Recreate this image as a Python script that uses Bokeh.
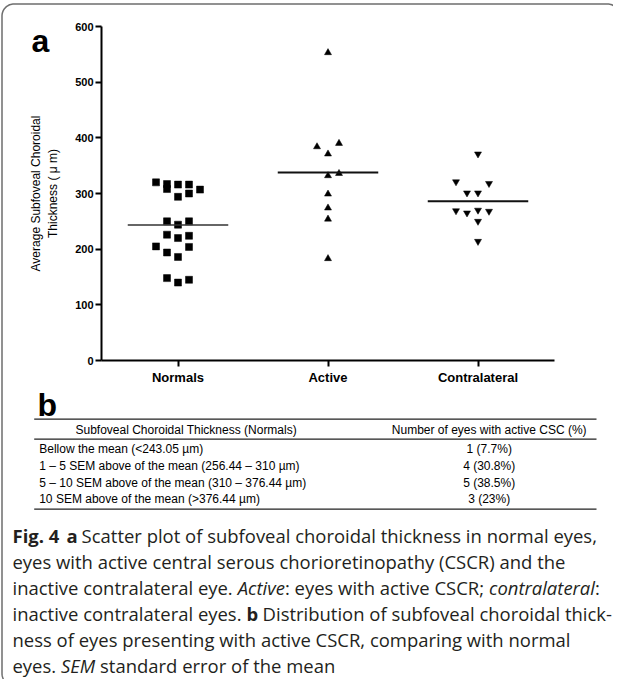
import os, glob, struct, subprocess
import numpy as np
from bokeh.plotting import figure
from bokeh.models import Range1d, FixedTicker, ColumnDataSource
from bokeh.core.properties import value
from bokeh.embed import file_html
from bokeh.resources import INLINE

# ---------------- data ----------------
categories = ["Normals", "Active", "Contralateral"]
normals = [320, 317, 308, 316, 316, 307, 300, 294, 250, 250, 244, 226, 224, 220, 205, 204, 194, 186, 148, 145, 140]
normals_slot = [-2, -1, -1, 0, 1, 2, 1, 0, -1, 1, 0, -1, 1, 0, -2, 1, -1, 0, -1, 1, 0]
active = [553, 384, 390, 371, 332, 336, 299, 274, 254, 183]
active_slot = [0, -1, 1, 0, 0, 1, 0, 0, 0, 0]
contralateral = [371, 321, 318, 301, 301, 269, 265, 270, 268, 250, 214]
contralateral_slot = [0, -2, 1, -1, 0, -2, -1, 0, 1, 0, 0]
y_ticks = [0, 100, 200, 300, 400, 500, 600]
y_label = "Average Subfoveal Choroidal\nThickness ( μ m)"

table_header = ["Subfoveal Choroidal Thickness (Normals)", "Number of eyes with active CSC (%)"]
table_col1 = ["Bellow the mean (<243.05 µm)",
              "1 – 5 SEM above of the mean (256.44 – 310 µm)",
              "5 – 10 SEM above of the mean (310 – 376.44 µm)",
              "10 SEM above of the mean (>376.44 µm)"]
table_col2 = ["1 (7.7%)", "4 (30.8%)", "5 (38.5%)", "3 (23%)"]

caption = [
    [("Fig. 4", "bold"), ("  a", "bold"), (" Scatter plot of subfoveal choroidal thickness in normal eyes,", "normal")],
    [("eyes with active central serous chorioretinopathy (CSCR) and the", "normal")],
    [("inactive contralateral eye. ", "normal"), ("Active", "italic"), (": eyes with active CSCR; ", "normal"),
     ("contralateral", "italic"), (":", "normal")],
    [("inactive contralateral eyes. ", "normal"), ("b", "bold"), (" Distribution of subfoveal choroidal thick-", "normal")],
    [("ness of eyes presenting with active CSCR, comparing with normal", "normal")],
    [("eyes. ", "normal"), ("SEM", "italic"), (" standard error of the mean", "normal")],
]

# ---------------- font metrics (for laying out mixed-style caption) ----------------
class FontMetrics:
    def __init__(self, path):
        with open(path, "rb") as fh:
            d = fh.read()
        base = 0
        if d[:4] == b"ttcf":
            base = struct.unpack(">I", d[12:16])[0]
        num = struct.unpack(">H", d[base + 4:base + 6])[0]
        tab = {}
        for i in range(num):
            rec = base + 12 + 16 * i
            tag = d[rec:rec + 4].decode("latin-1")
            off, ln = struct.unpack(">II", d[rec + 8:rec + 16])
            tab[tag] = off
        self.d = d
        h = tab["head"]
        self.upm = struct.unpack(">H", d[h + 18:h + 20])[0]
        hh = tab["hhea"]
        nhm = struct.unpack(">H", d[hh + 34:hh + 36])[0]
        hm = tab["hmtx"]
        self.adv = struct.unpack(">" + "Hh" * nhm, d[hm:hm + 4 * nhm])[0::2]
        cm = tab["cmap"]
        n = struct.unpack(">H", d[cm + 2:cm + 4])[0]
        sub = None
        for i in range(n):
            pid, eid, off = struct.unpack(">HHI", d[cm + 4 + 8 * i:cm + 12 + 8 * i])
            fmt = struct.unpack(">H", d[cm + off:cm + off + 2])[0]
            if fmt == 4 and (pid == 0 or (pid == 3 and eid == 1)):
                sub = cm + off
                break
        s = sub
        segx2 = struct.unpack(">H", d[s + 6:s + 8])[0]
        sc = segx2 // 2
        self.ends = struct.unpack(">%dH" % sc, d[s + 14:s + 14 + segx2])
        st = s + 16 + segx2
        self.starts = struct.unpack(">%dH" % sc, d[st:st + segx2])
        dl = st + segx2
        self.deltas = struct.unpack(">%dh" % sc, d[dl:dl + segx2])
        self.ro = dl + segx2
        self.ros = struct.unpack(">%dH" % sc, d[self.ro:self.ro + segx2])

    def glyph(self, c):
        for i, e in enumerate(self.ends):
            if c <= e:
                if c < self.starts[i]:
                    return 0
                if self.ros[i] == 0:
                    return (c + self.deltas[i]) & 0xFFFF
                addr = self.ro + 2 * i + self.ros[i] + 2 * (c - self.starts[i])
                g = struct.unpack(">H", self.d[addr:addr + 2])[0]
                return (g + self.deltas[i]) & 0xFFFF if g else 0
        return 0

    def width(self, text, size):
        tot = 0
        for ch in text:
            g = self.glyph(ord(ch))
            tot += self.adv[min(g, len(self.adv) - 1)]
        return tot * size / self.upm


def find_font(pattern):
    try:
        out = subprocess.run(["fc-match", "-f", "%{file}", pattern], capture_output=True,
                             text=True, timeout=5).stdout.strip()
        if out and os.path.exists(out):
            return out
    except Exception:
        pass
    return None


CAP_FONT = "Open Sans"
metrics = {}
for style, pat in [("normal", "Open Sans"), ("bold", "Open Sans:bold"), ("italic", "Open Sans:italic")]:
    try:
        metrics[style] = FontMetrics(find_font(pat))
    except Exception:
        metrics[style] = None


def text_width(text, style, size):
    m = metrics.get(style)
    if m is not None:
        try:
            return m.width(text, size)
        except Exception:
            pass
    return len(text) * size * (0.55 if style == "bold" else 0.5)


# ---------------- figure ----------------
W, H = 613, 679
FL, FT, FW, FH = 101, 26, 453, 334   # frame position within canvas

p = figure(width=W, height=H, x_range=Range1d(0.49, 3.51), y_range=Range1d(0, 600),
           output_backend="svg", toolbar_location=None,
           min_border_left=FL, min_border_right=W - FL - FW,
           min_border_top=FT, min_border_bottom=H - FT - FH,
           background_fill_color="white", border_fill_color="white", outline_line_color=None)
p.xgrid.visible = False
p.ygrid.visible = False
# page-pixel coordinate system for decorations and texts
p.extra_x_ranges = {"px": Range1d(FL, FL + FW)}
p.extra_y_ranges = {"py": Range1d(FT + FH, FT)}

AX_FONT = "Liberation Sans"
for ax in (p.xaxis[0], p.yaxis[0]):
    ax.axis_line_width = 2
    ax.axis_line_color = "black"
    ax.major_tick_line_width = 2
    ax.major_tick_line_color = "black"
    ax.major_tick_in = 0
    ax.major_tick_out = 6
    ax.minor_tick_line_color = None
    ax.major_label_text_font = AX_FONT
    ax.major_label_text_color = "black"
    ax.major_label_text_font_style = "bold"

p.yaxis.ticker = FixedTicker(ticks=y_ticks)
p.yaxis.major_label_text_font_size = "11px"
p.yaxis.major_label_standoff = 2
p.yaxis.axis_label = y_label
p.yaxis.axis_label_text_font = AX_FONT
p.yaxis.axis_label_text_font_size = "12px"
p.yaxis.axis_label_text_font_style = "normal"
p.yaxis.axis_label_text_color = "black"
p.yaxis.axis_label_standoff = 12

p.xaxis.ticker = FixedTicker(ticks=[1, 2, 3])
p.xaxis.major_label_overrides = {i + 1: c for i, c in enumerate(categories)}
p.xaxis.major_label_text_font_size = "13px"
p.xaxis.major_label_standoff = 3

slot_w = 11.0 / 150.0
half_line = 0.335
groups = [(normals, normals_slot, "square"), (active, active_slot, "triangle"),
          (contralateral, contralateral_slot, "inverted_triangle")]
for i, (vals, slots, mk) in enumerate(groups):
    xs = [i + 1 + s * slot_w for s in slots]
    p.scatter(x=xs, y=vals, marker=mk, size=7, fill_color="black", line_color="black", line_width=0.5)
    m = float(np.mean(vals))
    p.segment(x0=[i + 1 - half_line], y0=[m], x1=[i + 1 + half_line], y1=[m],
              line_color="#111111" if i else "#333333", line_width=2 if i else 1.6)

# ---------------- page decorations (canvas pixel coordinates) ----------------
def rounded_path(L, T, R, B, r, n=18):
    xs, ys = [], []
    corners = [((L + r, B - r), np.pi / 2, np.pi), ((L + r, T + r), np.pi, 1.5 * np.pi),
               ((R - r, T + r), 1.5 * np.pi, 2 * np.pi), ((R - r, B - r), 0, np.pi / 2)]
    for (cx, cy), a0, a1 in corners:
        t = np.linspace(a0, a1, n)
        xs.extend(cx + r * np.cos(t))
        ys.extend(cy + r * np.sin(t))
    xs.append(xs[0])
    ys.append(ys[0])
    return xs, ys

bx, by = rounded_path(1.5, 3.5, 619, 685, 12)
p.line(bx, by, x_range_name="px", y_range_name="py", level="overlay", line_color="#6e6e6e", line_width=1.5)

# collect texts, grouped by (font, size, style, align, baseline, color)
text_groups = {}
def add_text(x, y, text, size, style="normal", font=AX_FONT, align="left", baseline="middle", color="black"):
    key = (font, size, style, align, baseline, color)
    g = text_groups.setdefault(key, {"x": [], "y": [], "text": []})
    g["x"].append(x)
    g["y"].append(y)
    g["text"].append(text)

# panel letters
add_text(31, 40, "a", 32, "bold", baseline="alphabetic")
add_text(37, 404, "b", 32, "bold", baseline="alphabetic")

# table
T_LEFT, T_RIGHT = 33.7, 596
rules_y = [418.7, 438.7, 508.7]
rx, ry = [], []
for yy in rules_y:
    rx += [T_LEFT, T_RIGHT, np.nan]
    ry += [yy, yy, np.nan]
p.line(rx, ry, x_range_name="px", y_range_name="py", level="overlay", line_color="#222222", line_width=1.3)

add_text(75, 429, table_header[0], 12)
add_text(488.7, 429, table_header[1], 12, align="center")
row_y0, row_step = 448.4, 16.8
for k, (c1, c2) in enumerate(zip(table_col1, table_col2)):
    yy = row_y0 + k * row_step
    add_text(38.7, yy, c1, 12)
    add_text(488.7, yy, c2, 12, align="center")

# caption
CAP_X, CAP_TARGET = 12, 585
w1 = sum(text_width(t, s, 1.0) for t, s in caption[0])
cap_size = round(min(19.0, max(14.0, CAP_TARGET / w1)), 2)
cap_y0, cap_step = 535, 26.0
for li, segs in enumerate(caption):
    x = CAP_X
    yy = cap_y0 + li * cap_step
    for t, s in segs:
        lead = len(t) - len(t.lstrip(" "))
        if lead:
            x += text_width(" " * lead, s, cap_size)
        body = t.lstrip(" ")
        if body.strip():
            add_text(x, yy, body.rstrip(" "), cap_size, s, font=CAP_FONT, color="#231f20")
        x += text_width(body, s, cap_size)

for (font, size, style, align, baseline, color), g in text_groups.items():
    p.text(x="x", y="y", text="text", source=ColumnDataSource(g),
           x_range_name="px", y_range_name="py", level="overlay",
           text_font=value(font), text_font_size=f"{size}px", text_font_style=style,
           text_align=align, text_baseline=baseline, text_color=color)

open("out.html", "w").write(file_html(p, INLINE))
